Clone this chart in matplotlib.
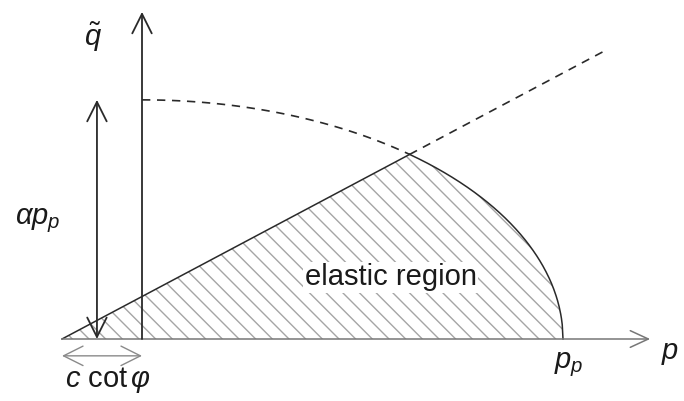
import numpy as np
import matplotlib.pyplot as plt

plt.rcParams['font.family'] = ['Liberation Sans', 'DejaVu Sans']
plt.rcParams['mathtext.fontset'] = 'custom'
plt.rcParams['mathtext.rm'] = 'Liberation Sans'
plt.rcParams['mathtext.it'] = 'Liberation Sans:italic'
plt.rcParams['hatch.linewidth'] = 1.0

# yield surface parameters (p_p normalised to 1)
pp = 1.0            # preconsolidation pressure p_p
c_cot_phi = 0.19    # shift of the cone apex, c cot(phi)
alpha = 0.568       # cap height ratio, q_max = alpha * p_p
M = 0.531           # slope of the Drucker-Prager line

p_axis_end = 1.207
q_axis_top = 0.777
p_line_end = 1.10
x_alpha_arrow = -0.107
y_ccot_arrow = -0.040

# label texts and their anchor points (p, q)
labels = [r'$\tilde{q}$', r'$\alpha p_p$', r'$c\ \mathrm{cot}\,\varphi$', r'$p_p$', r'$p$']
label_p = [-0.116, -0.247, -0.081, 1.014, 1.254]
label_q = [0.717, 0.280, -0.097, -0.062, -0.033]

fig = plt.figure(figsize=(6.84, 4.01), dpi=100)
ax = fig.add_axes([0, 0, 1, 1])
ax.set_xlim(-142 / 421, 542 / 421)
ax.set_ylim(-62 / 421, 339 / 421)
ax.axis('off')

# intersection of the cap ellipse with the straight line
a2 = alpha ** 2 + M ** 2
b2 = 2 * M ** 2 * c_cot_phi
c2 = M ** 2 * c_cot_phi ** 2 - alpha ** 2
p_int = (-b2 + np.sqrt(b2 ** 2 - 4 * a2 * c2)) / (2 * a2)
q_int = M * (p_int + c_cot_phi)

def cap(p):
    return alpha * pp * np.sqrt(np.clip(1 - (p / pp) ** 2, 0, None))

def line(p):
    return M * (p + c_cot_phi)

ink = '#2a2a2a'

# hatched elastic region
p_left = np.linspace(-c_cot_phi, p_int, 50)
p_right = np.linspace(p_int, pp, 200)
p_reg = np.concatenate([p_left, p_right])
q_reg = np.concatenate([line(p_left), cap(p_right)])
ax.fill_between(p_reg, 0, q_reg, facecolor='none', edgecolor='#a5a5a5',
                hatch='\\\\', linewidth=0)

# solid boundaries
ax.plot(p_left, line(p_left), color=ink, lw=1.1)
ax.plot(p_right, cap(p_right), color=ink, lw=1.1)

# dashed continuations
p_cap_dash = np.linspace(0, p_int, 100)
ax.plot(p_cap_dash, cap(p_cap_dash), color=ink, lw=1.2, ls=(0, (5, 4)))
p_line_dash = np.linspace(p_int, p_line_end, 20)
ax.plot(p_line_dash, line(p_line_dash), color=ink, lw=1.2, ls=(0, (5, 4)))

# axes arrows
ax.annotate('', xy=(p_axis_end, 0), xytext=(-c_cot_phi, 0),
            arrowprops=dict(arrowstyle='->,head_length=0.65,head_width=0.3',
                            mutation_scale=20, color='#777777', lw=1.1,
                            shrinkA=0, shrinkB=0))
ax.annotate('', xy=(0, q_axis_top), xytext=(0, 0),
            arrowprops=dict(arrowstyle='->,head_length=0.7,head_width=0.35',
                            mutation_scale=20, color=ink, lw=1.3,
                            shrinkA=0, shrinkB=0))

# dimension arrows
ax.annotate('', xy=(x_alpha_arrow, alpha * pp), xytext=(x_alpha_arrow, 0),
            arrowprops=dict(arrowstyle='<->,head_length=0.7,head_width=0.35',
                            mutation_scale=20, color=ink, lw=1.3,
                            shrinkA=0, shrinkB=0))
ax.annotate('', xy=(0, y_ccot_arrow), xytext=(-c_cot_phi, y_ccot_arrow),
            arrowprops=dict(arrowstyle='<->,head_length=0.7,head_width=0.35',
                            mutation_scale=20, color='#8a8a8a', lw=1.0,
                            shrinkA=0, shrinkB=0))

for text, px, qy in zip(labels, label_p, label_q):
    ax.text(px, qy, text, fontsize=21, ha='center', va='center', color='#1a1a1a')

ax.text(0.591, 0.128, 'elastic region', fontsize=21, ha='center', va='baseline',
        color='#1a1a1a',
        bbox=dict(facecolor='white', edgecolor='none', pad=1))

fig.savefig('out.png', dpi=100, facecolor='white')
